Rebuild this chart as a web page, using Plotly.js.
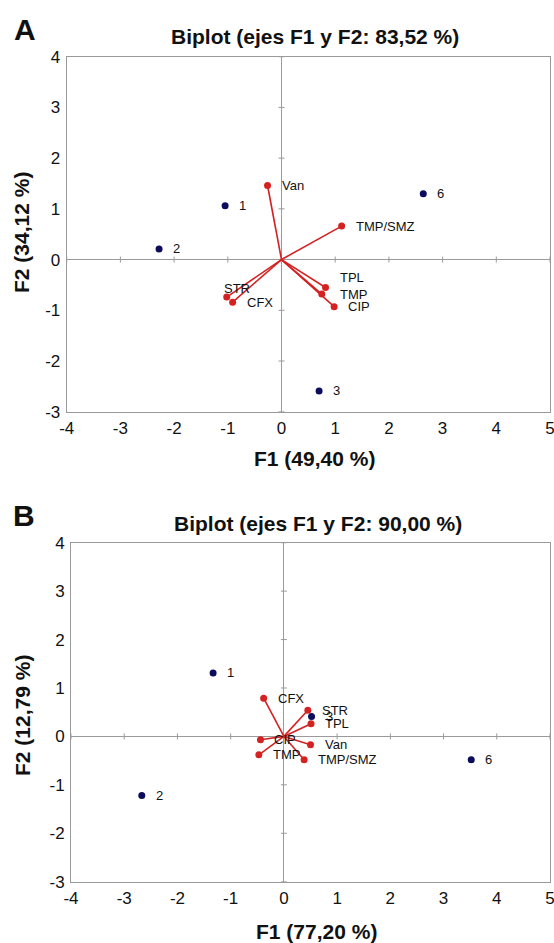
<!DOCTYPE html>
<html>
<head>
<meta charset="utf-8">
<script src="https://cdn.plot.ly/plotly-3.0.1.min.js"></script>
<style>html,body{margin:0;padding:0;background:#fff;}#chart{width:554px;height:943px;}</style>
</head>
<body>
<div id="chart"></div>
<script>
// ---------- DATA ----------
const obsLabels = ['1', '2', '3', '6'];
const varLabels = ['Van', 'TMP/SMZ', 'TPL', 'TMP', 'CIP', 'STR', 'CFX'];

// Panel A
const obsA_F1 = [-1.05, -2.28, 0.70, 2.64];
const obsA_F2 = [1.06, 0.21, -2.59, 1.30];
const varA_F1 = [-0.26, 1.12, 0.82, 0.75, 0.98, -1.02, -0.91];
const varA_F2 = [1.46, 0.66, -0.55, -0.68, -0.93, -0.74, -0.84];

// Panel B
const obsB_F1 = [-1.33, -2.67, 0.52, 3.52];
const obsB_F2 = [1.31, -1.22, 0.41, -0.48];
const varB_F1 = [0.50, 0.38, 0.51, -0.47, -0.44, 0.45, -0.38];
const varB_F2 = [-0.17, -0.48, 0.26, -0.38, -0.07, 0.54, 0.79];

const xTicks = [-4, -3, -2, -1, 0, 1, 2, 3, 4, 5];
const yTicks = [-3, -2, -1, 0, 1, 2, 3, 4];

const titleA = 'Biplot (ejes F1 y F2: 83,52 %)';
const titleB = 'Biplot (ejes F1 y F2: 90,00 %)';
const xTitleA = 'F1 (49,40 %)';
const yTitleA = 'F2 (34,12 %)';
const xTitleB = 'F1 (77,20 %)';
const yTitleB = 'F2 (12,79 %)';

// ---------- STYLE ----------
const FONT = '"Liberation Sans", Arial, Helvetica, sans-serif';
const RED = '#d42222';
const NAVY = '#0c0c5c';
const GRAY = '#9a9a9a';
// label offsets (pixels) for a few crowded labels
const labelOffsetsA = { 'TPL': [13, 10], 'STR': [-4, 9], 'TMP': [17, 0] };
const labelOffsetsB = {};

function segments(xs, ys) {
  const sx = [], sy = [];
  xs.forEach((v, i) => { sx.push(0, v, null); sy.push(0, ys[i], null); });
  return { x: sx, y: sy };
}

function panelTraces(vx, vy, ox, oy, xa, ya) {
  const seg = segments(vx, vy);
  return [
    { type: 'scatter', mode: 'lines', x: seg.x, y: seg.y, xaxis: xa, yaxis: ya,
      line: { color: RED, width: 1.6 }, hoverinfo: 'skip', showlegend: false },
    { type: 'scatter', mode: 'markers', x: vx, y: vy, xaxis: xa, yaxis: ya, text: varLabels,
      marker: { color: RED, size: 7 }, showlegend: false },
    { type: 'scatter', mode: 'markers', x: ox, y: oy, xaxis: xa, yaxis: ya, text: obsLabels,
      marker: { color: NAVY, size: 7 }, showlegend: false }
  ];
}

function labelAnns(labels, xs, ys, xr, yr, offsets) {
  return labels.map((t, i) => {
    const off = offsets[t] || [13, 0];
    return { text: t, x: xs[i], y: ys[i], xref: xr, yref: yr, showarrow: false,
      xanchor: 'left', yanchor: 'middle', xshift: off[0] - 1, yshift: off[1],
      font: { family: FONT, size: 13, color: '#111' } };
  });
}

function tickShapes(xr, yr) {
  const s = [];
  xTicks.filter(t => t !== 0).forEach(t => s.push({ type: 'line', xref: xr, yref: yr,
    x0: t, x1: t, ysizemode: 'pixel', yanchor: 0, y0: -3, y1: 3,
    line: { color: GRAY, width: 1 } }));
  yTicks.filter(t => t !== 0).forEach(t => s.push({ type: 'line', xref: xr, yref: yr,
    y0: t, y1: t, xsizemode: 'pixel', xanchor: 0, x0: -3, x1: 3,
    line: { color: GRAY, width: 1 } }));
  return s;
}

const W = 554, H = 943;
const px = v => v / W;
const py = v => 1 - v / H;

function axis(domain, range, ticks, anchor) {
  return {
    domain: domain, range: range, anchor: anchor,
    tickmode: 'array', tickvals: ticks, ticktext: ticks.map(String),
    ticks: '', showgrid: false,
    showline: true, mirror: true, linecolor: GRAY, linewidth: 1,
    zeroline: true, zerolinecolor: GRAY, zerolinewidth: 1.2,
    tickfont: { family: FONT, size: 17, color: '#111' },
    ticklabeloverflow: 'allow',
    automargin: false, fixedrange: true
  };
}

const xa1 = axis([px(66.7), px(550)], [-4, 5], xTicks, 'y');
const ya1 = axis([py(411.7), py(56.7)], [-3, 4], yTicks, 'x');
const xa2 = axis([px(71), px(550)], [-4, 5], xTicks, 'y2');
const ya2 = axis([py(881.7), py(542.7)], [-3, 4], yTicks, 'x2');
xa1.ticklabelstandoff = 1; xa2.ticklabelstandoff = 1;
ya1.ticklabelstandoff = 2; ya2.ticklabelstandoff = 2;

const txt = (text, x, y, size, extra) => Object.assign({ text: text, x: x, y: y,
  xref: 'paper', yref: 'paper', showarrow: false, xanchor: 'center', yanchor: 'middle',
  font: { family: FONT, size: size, color: '#111', weight: 'bold' } }, extra || {});

const annotations = [
  txt('<b>A</b>', px(25), py(29), 30),
  txt('<b>' + titleA + '</b>', px(315), py(37), 21),
  txt('<b>' + xTitleA + '</b>', px(314), py(458), 21),
  txt('<b>' + yTitleA + '</b>', px(22), py(233), 21, { textangle: -90 }),
  txt('<b>B</b>', px(24), py(515), 30),
  txt('<b>' + titleB + '</b>', px(318), py(523), 21),
  txt('<b>' + xTitleB + '</b>', px(316), py(931), 21),
  txt('<b>' + yTitleB + '</b>', px(22), py(716), 21, { textangle: -90 })
].concat(
  labelAnns(varLabels, varA_F1, varA_F2, 'x', 'y', labelOffsetsA),
  labelAnns(obsLabels, obsA_F1, obsA_F2, 'x', 'y', {}),
  labelAnns(varLabels, varB_F1, varB_F2, 'x2', 'y2', labelOffsetsB),
  labelAnns(obsLabels, obsB_F1, obsB_F2, 'x2', 'y2', {})
);

const data = panelTraces(varA_F1, varA_F2, obsA_F1, obsA_F2, 'x', 'y')
  .concat(panelTraces(varB_F1, varB_F2, obsB_F1, obsB_F2, 'x2', 'y2'));

const layout = {
  width: W, height: H,
  margin: { l: 0, r: 0, t: 0, b: 0, pad: 0 },
  paper_bgcolor: '#fff', plot_bgcolor: '#fff',
  showlegend: false,
  font: { family: FONT, color: '#111' },
  xaxis: xa1, yaxis: ya1, xaxis2: xa2, yaxis2: ya2,
  shapes: tickShapes('x', 'y').concat(tickShapes('x2', 'y2')),
  annotations: annotations
};

Plotly.newPlot('chart', data, layout, { displayModeBar: false, staticPlot: true });
</script>
</body>
</html>
